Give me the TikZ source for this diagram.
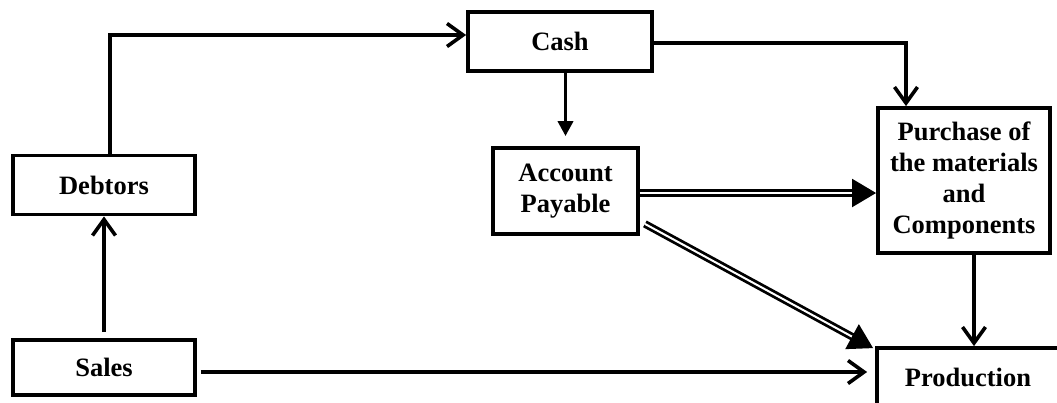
\documentclass[tikz,border=0pt]{standalone}
\usepackage{fontspec}
\setmainfont{Liberation Serif}
\usetikzlibrary{arrows.meta,calc}
\begin{document}
\begin{tikzpicture}[x=1pt,y=-1pt,
  box/.style={draw,line width=3.8pt,rectangle,inner sep=0pt,align=center,
    font=\fontsize{26.5}{31}\selectfont\bfseries},
  conn/.style={line width=3.6pt},
  openhead/.style={conn,-{Straight Barb[length=16pt,width=23pt,line width=3.6pt]}},
  smallhead/.style={conn,-{Triangle[length=15pt,width=15pt]}},
  dblline/.style={double,line width=2.8pt,double distance=2pt,shorten >=18pt},
  bighead/.style={line width=2pt,-{Triangle[length=24pt,width=28pt]}}]
\useasboundingbox (0,0) rectangle (1057,402);
\begin{scope}
\clip (0,0) rectangle (1057,402);
% the six boxes
\node[box,minimum width=182pt,minimum height=59pt] (debtors) at (104,185) {Debtors};
\node[box,minimum width=182pt,minimum height=55pt] (sales) at (104,367.5) {Sales};
\node[box,minimum width=184pt,minimum height=59pt] (cash) at (560,41.5) {Cash};
\node[box,minimum width=145pt,minimum height=86pt] (ap) at (565.5,191) {Account\\Payable};
\node[box,minimum width=172pt,minimum height=145pt] (pur) at (964,180.5)
  {Purchase of\\the materials\\and\\Components};
\node[box,minimum width=182pt,minimum height=58pt] (prod) at (968,377) {Production};
% bend points of the connectors
\coordinate (dc) at (110,35);
\coordinate (cp) at (906,43);
\coordinate (apy) at (0,193);
\coordinate (sy) at (0,372);
\coordinate (pp) at (974,0);
% single connectors
\draw[openhead,shorten <=6pt] (sales.north) -- (debtors.south);
\draw[openhead] (debtors.north -| dc) |- (cash.west |- dc);
\draw[smallhead,shorten >=10pt] (cash.south -| ap) -- (ap.north);
\draw[openhead] (cash.east |- cp) -| (pur.north -| cp);
\draw[openhead] (pur.south -| pp) -- (prod.north -| pp);
\draw[openhead,shorten <=4pt,shorten >=8pt] (sales.east |- sy) -- (prod.west |- sy);
% double connectors from Account Payable
\coordinate (d1) at ($(ap.south east)+(5,-12)$);
\coordinate (d2) at ($(prod.north west)+(-2,2)$);
\draw[dblline] (ap.east |- apy) -- (pur.west |- apy);
\draw[bighead] ($(pur.west |- apy)+(-22,0)$) -- (pur.west |- apy);
\draw[dblline] (d1) -- (d2);
\draw[bighead] ($(d2)!22pt!(d1)$) -- (d2);
\end{scope}
\end{tikzpicture}
\end{document}
